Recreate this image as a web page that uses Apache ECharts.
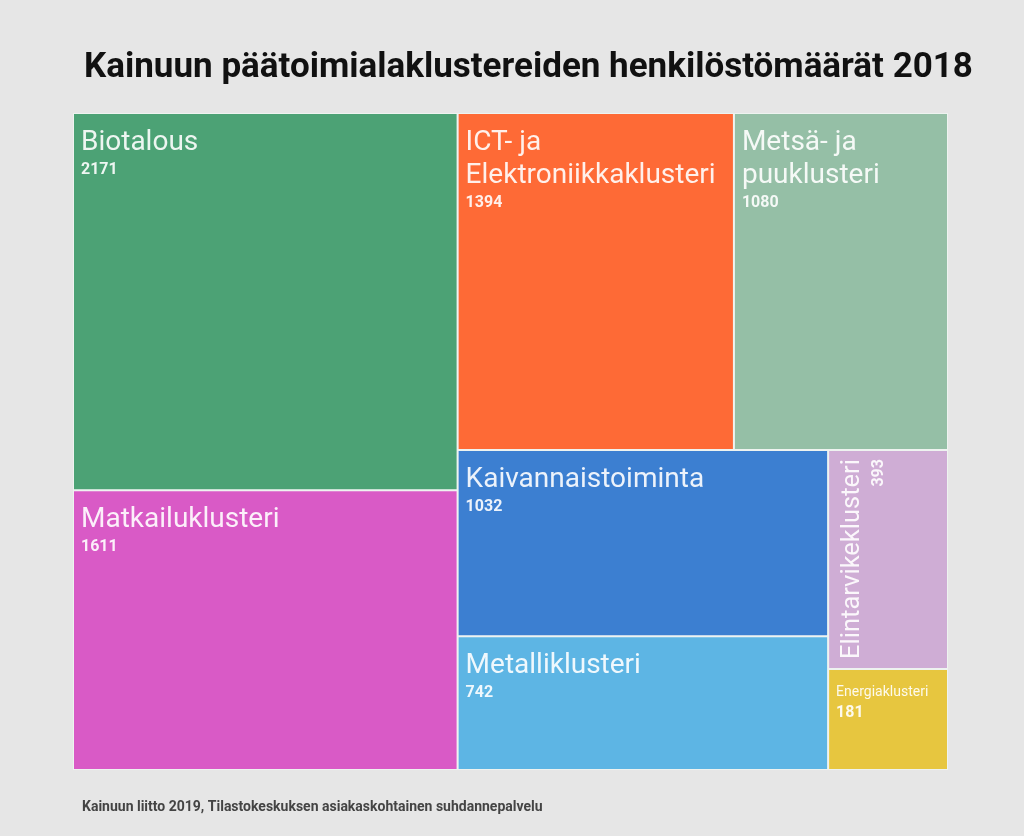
<!DOCTYPE html>
<html>
<head>
<meta charset="utf-8">
<title>Kainuun päätoimialaklusterit 2018</title>
<script src="https://cdn.jsdelivr.net/npm/echarts@6/dist/echarts.min.js"></script>
<style>
  html, body { margin: 0; padding: 0; background: #e6e6e6; }
  #chart { width: 1024px; height: 836px; }
</style>
</head>
<body>
<div id="chart"></div>
<script>
// henkilöstömäärät per klusteri
const clusters = [
  'Biotalous',
  'Matkailuklusteri',
  'ICT- ja Elektroniikkaklusteri',
  'Metsä- ja puuklusteri',
  'Kaivannaistoiminta',
  'Metalliklusteri',
  'Elintarvikeklusteri',
  'Energiaklusteri'
]
const employees = [2171, 1611, 1394, 1080, 1032, 742, 393, 181]
const colors = ['#4ca275', '#d95ac6', '#fe6a36', '#95bfa6', '#3c7fd1', '#5db5e4', '#cfadd5', '#e7c63f']

const font = 'Roboto, "Noto Sans", sans-serif'
const textColor = 'rgba(255, 255, 255, 0.9)'

const richBig = {
  name: { fontFamily: font, fontSize: 28, lineHeight: 33, color: textColor },
  val: { fontFamily: font, fontSize: 16, fontWeight: 'bold', lineHeight: 22, color: textColor }
}
const richRotated = {
  name: { fontFamily: font, fontSize: 25.5, lineHeight: 30, color: textColor },
  val: { fontFamily: font, fontSize: 16, fontWeight: 'bold', lineHeight: 22, color: textColor }
}
const richSmall = {
  name: { fontFamily: font, fontSize: 14, lineHeight: 20, color: textColor },
  val: { fontFamily: font, fontSize: 16, fontWeight: 'bold', lineHeight: 22, color: textColor }
}

// pitkät nimet kahdelle riville " ja " -kohdasta
const labelText = (p) => `{name|${p.name.replace(' ja ', ' ja\n')}}\n{val|${p.value}}`

const treeData = clusters.map((name, i) => {
  const item = { name, value: employees[i], itemStyle: { color: colors[i] } }
  if (name === 'Elintarvikeklusteri') {
    // kapea laatikko: teksti pystyyn
    item.label = {
      rotate: 90,
      position: [-3, 0],
      align: 'right',
      verticalAlign: 'top',
      rich: richRotated
    }
  }
  if (name === 'Energiaklusteri') {
    item.label = { rich: richSmall }
  }
  return item
})

const chart = echarts.init(document.getElementById('chart'))

chart.setOption({
  backgroundColor: '#e6e6e6',
  animation: false,
  title: [
    {
      text: 'Kainuun päätoimialaklustereiden henkilöstömäärät 2018',
      left: 79,
      top: 46,
      textStyle: { fontFamily: font, fontSize: 35, fontWeight: 'bold', color: '#111' }
    },
    {
      text: 'Kainuun liitto 2019, Tilastokeskuksen asiakaskohtainen suhdannepalvelu',
      left: 77,
      top: 795,
      textStyle: { fontFamily: font, fontSize: 14, fontWeight: 'bold', color: '#444' }
    }
  ],
  tooltip: { show: false },
  series: [
    {
      type: 'treemap',
      left: 73,
      top: 113,
      width: 875,
      height: 657,
      roam: false,
      nodeClick: false,
      breadcrumb: { show: false },
      emphasis: { disabled: true },
      levels: [
        { itemStyle: { borderColor: '#eef3f0', borderWidth: 1, gapWidth: 2 } }
      ],
      label: {
        show: true,
        position: 'insideTopLeft',
        distance: 0,
        padding: [12, 8, 6, 7],
        overflow: 'none',
        formatter: labelText,
        rich: richBig
      },
      data: treeData
    }
  ]
})
</script>
</body>
</html>
